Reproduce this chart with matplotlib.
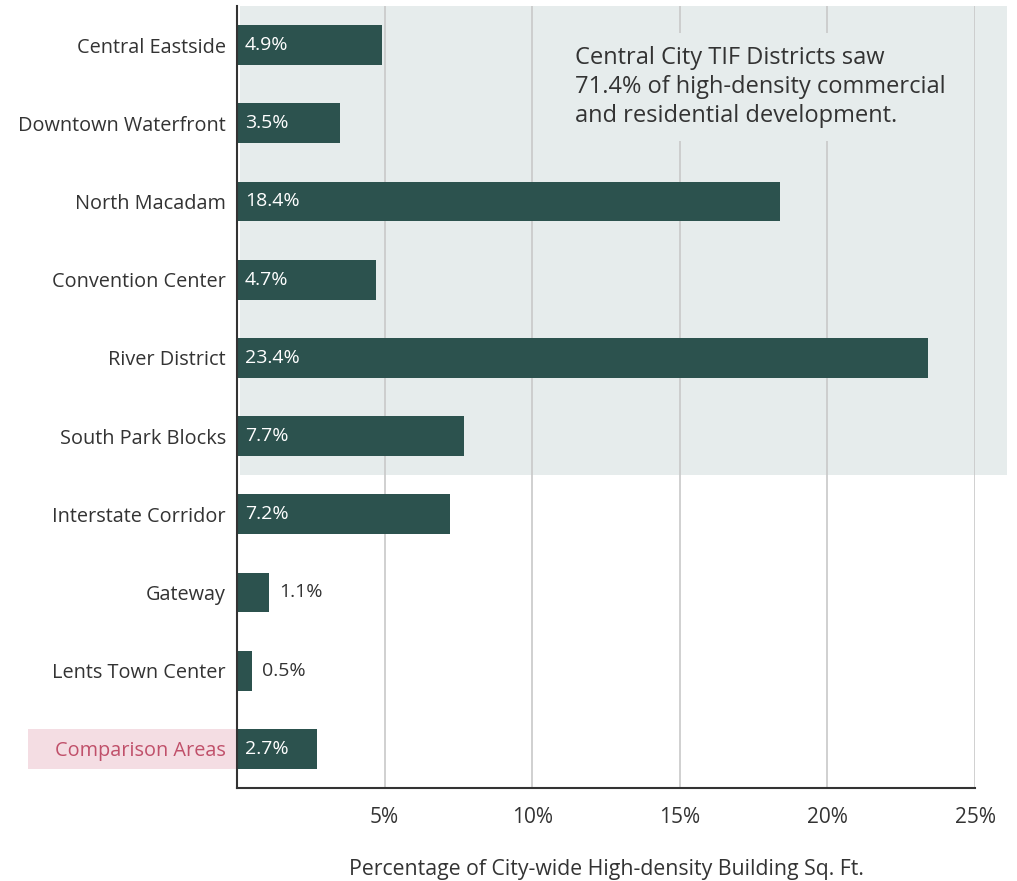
import matplotlib.pyplot as plt
from matplotlib.patches import Rectangle

plt.rcParams["font.family"] = ["Open Sans", "DejaVu Sans"]

districts = [
    "Central Eastside",
    "Downtown Waterfront",
    "North Macadam",
    "Convention Center",
    "River District",
    "South Park Blocks",
    "Interstate Corridor",
    "Gateway",
    "Lents Town Center",
    "Comparison Areas",
]
share_pct = [4.9, 3.5, 18.4, 4.7, 23.4, 7.7, 7.2, 1.1, 0.5, 2.7]
x_ticks = [5, 10, 15, 20, 25]
central_city_count = 6  # first six rows are Central City TIF districts
note = ("Central City TIF Districts saw\n"
        "71.4% of high-density commercial\n"
        "and residential development.")

bar_color = "#2c524e"
shade_color = "#e6ecec"
text_color = "#333333"

fig = plt.figure(figsize=(10.17, 8.81), dpi=100)
ax = fig.add_axes([237 / 1017, 1 - 788 / 881, (975 - 237) / 1017, (788 - 6) / 881])

ypos = list(range(len(districts)))
ax.set_xlim(0, 25)
ax.set_ylim(len(districts) - 0.5, -0.5)

# central city band, runs a little past the right end of the axis
ax.add_patch(Rectangle((0.1, -0.5), 26.0, central_city_count, color=shade_color,
                       zorder=0, clip_on=False, lw=0))

for t in x_ticks:
    ax.axvline(t, color="#c8c8c8", lw=1.2, zorder=1)

ax.barh(ypos, share_pct, height=0.51, color=bar_color, zorder=3)

for y, v in zip(ypos, share_pct):
    label = f"{v}%"
    if v >= 2:
        ax.text(0.27, y, label, color="white", va="center", ha="left",
                fontsize=14, zorder=4)
    else:
        ax.text(v + 0.33, y, label, color=text_color, va="center", ha="left",
                fontsize=14, zorder=4)

ax.text(11.45, 0.54, note, fontsize=17, color=text_color, va="center", ha="left",
        linespacing=1.27, zorder=2,
        bbox=dict(boxstyle="square,pad=0.55", fc=shade_color, ec="none"))

ax.set_yticks(ypos)
ax.set_yticklabels(districts, fontsize=14.3, color=text_color)
ax.tick_params(axis="y", length=0, pad=8)
cmp_label = ax.get_yticklabels()[-1]
cmp_label.set_color("#c0506a")

# pink background behind the comparison row label
ax.add_patch(Rectangle((-7.08, len(districts) - 1 - 0.255), 7.08, 0.51,
                       color="#f4dde3", lw=0, zorder=0, clip_on=False))

ax.set_xticks(x_ticks)
ax.set_xticklabels([f"{t}%" for t in x_ticks], fontsize=15, color=text_color)
ax.tick_params(axis="x", length=0, pad=14)
ax.set_xlabel("Percentage of City-wide High-density Building Sq. Ft.",
              fontsize=15.3, color=text_color, labelpad=22)

for side in ["top", "right"]:
    ax.spines[side].set_visible(False)
for side in ["left", "bottom"]:
    ax.spines[side].set_color("#333333")
    ax.spines[side].set_linewidth(1.5)
    ax.spines[side].set_zorder(5)

fig.savefig("out.png", dpi=100)
